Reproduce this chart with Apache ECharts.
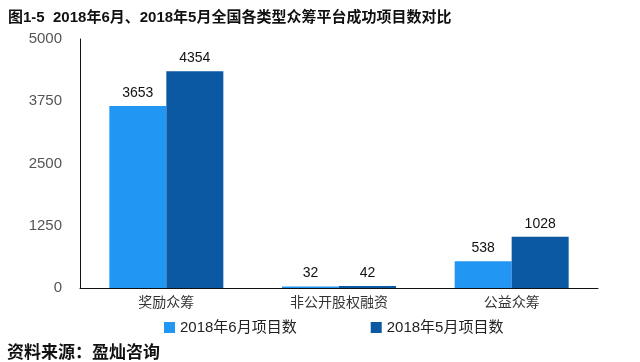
<!DOCTYPE html>
<html><head><meta charset="utf-8">
<script src="https://cdn.jsdelivr.net/npm/echarts@6/dist/echarts.min.js"></script>
<style>html,body{margin:0;padding:0;background:#fff}#c{width:640px;height:362px}</style>
</head><body><div id="c"></div>
<script>
const title = '图1-5  2018年6月、2018年5月全国各类型众筹平台成功项目数对比';
const source = '资料来源：盈灿咨询';
const categories = ['奖励众筹', '非公开股权融资', '公益众筹'];
const seriesNames = ['2018年6月项目数', '2018年5月项目数'];
const june = [3653, 32, 538];
const may = [4354, 42, 1028];
const yTicks = [0, 1250, 2500, 3750, 5000];

const font = '"Helvetica Neue", Helvetica, "Noto Sans CJK SC", Arial, sans-serif';
const chart = echarts.init(document.getElementById('c'));
chart.setOption({
  animation: false,
  backgroundColor: '#fff',
  textStyle: { fontFamily: font },
  title: [
    { text: title, left: 3, top: 5, textStyle: { fontSize: 15, fontWeight: 'bold', color: '#111', fontFamily: font } },
    { text: source, left: 2, top: 340, textStyle: { fontSize: 17, fontWeight: 'bold', color: '#111', fontFamily: font } }
  ],
  legend: {
    data: seriesNames, top: 315, left: 159, itemGap: 74,
    itemWidth: 11, itemHeight: 11, icon: 'rect',
    textStyle: { fontSize: 15, color: '#222', fontFamily: font }
  },
  grid: { left: 80, right: 42, top: 39, bottom: 74 },
  xAxis: {
    type: 'category', data: categories,
    axisLine: { lineStyle: { color: '#111', width: 1 } },
    axisTick: { show: false },
    axisLabel: { fontSize: 14, color: '#333', margin: 8, fontFamily: font }
  },
  yAxis: {
    type: 'value', min: yTicks[0], max: yTicks[yTicks.length - 1], interval: yTicks[1] - yTicks[0],
    axisLine: { show: true, lineStyle: { color: '#111', width: 1 } },
    axisTick: { show: false },
    splitLine: { show: false },
    axisLabel: { fontSize: 15, color: '#555', margin: 18, fontFamily: font, formatter: v => String(v) }
  },
  series: [
    { name: seriesNames[0], type: 'bar', data: june, barWidth: 57, barGap: '0%',
      itemStyle: { color: '#2196F3' },
      label: { show: true, position: 'top', fontSize: 14, color: '#111', distance: 6, fontFamily: font } },
    { name: seriesNames[1], type: 'bar', data: may, barWidth: 57, barGap: '0%',
      itemStyle: { color: '#0B58A3' },
      label: { show: true, position: 'top', fontSize: 14, color: '#111', distance: 6, fontFamily: font } }
  ]
});
</script></body></html>
